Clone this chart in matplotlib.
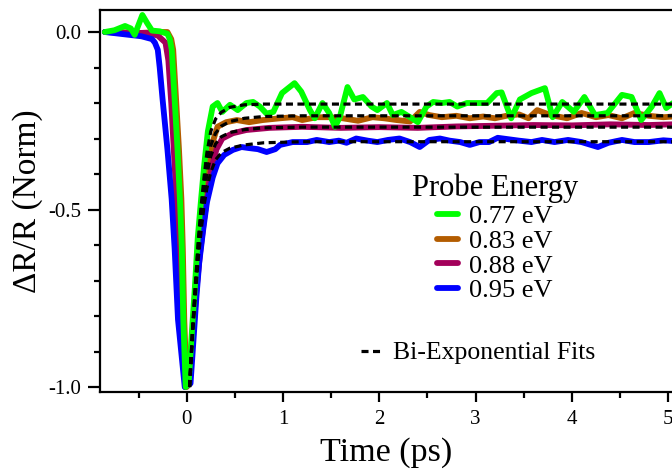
import matplotlib
matplotlib.use('Agg')
import matplotlib.pyplot as plt
from matplotlib.ticker import MultipleLocator

plt.rcParams['font.family'] = ['Liberation Serif', 'DejaVu Serif']

t_077 = [-0.85, -0.75, -0.64, -0.58, -0.54, -0.50, -0.46, -0.41, -0.36, -0.28,
         -0.20, -0.175, -0.155, -0.125, -0.095, -0.07, -0.05, -0.035, -0.01, 0.02,
         0.06, 0.085, 0.115, 0.15, 0.18, 0.22, 0.27, 0.32, 0.37, 0.45,
         0.53, 0.62, 0.69, 0.76, 0.83, 0.90, 0.99, 1.12, 1.19, 1.28,
         1.33, 1.41, 1.48, 1.54, 1.59, 1.67, 1.74, 1.83, 1.92, 1.98,
         2.08, 2.14, 2.23, 2.32, 2.40, 2.49, 2.56, 2.65, 2.73, 2.81,
         2.91, 3.01, 3.12, 3.22, 3.27, 3.37, 3.46, 3.58, 3.72, 3.80,
         3.90, 4.02, 4.13, 4.24, 4.37, 4.52, 4.62, 4.72, 4.83, 4.91,
         4.98, 5.05]
r_077 = [0.0, 0.005, 0.017, 0.01, -0.008, 0.02, 0.048, 0.025, 0.004, 0.002,
         -0.005, -0.02, -0.05, -0.19, -0.33, -0.47, -0.61, -0.81, -1.0, -0.99,
         -0.82, -0.72, -0.58, -0.47, -0.38, -0.28, -0.21, -0.2, -0.225, -0.205,
         -0.22, -0.2, -0.197, -0.21, -0.23, -0.225, -0.172, -0.144, -0.168, -0.22,
         -0.243, -0.2, -0.228, -0.267, -0.24, -0.155, -0.19, -0.183, -0.21, -0.22,
         -0.2, -0.234, -0.225, -0.24, -0.254, -0.21, -0.197, -0.2, -0.197, -0.21,
         -0.2, -0.2, -0.2, -0.172, -0.17, -0.243, -0.19, -0.172, -0.158, -0.24,
         -0.197, -0.225, -0.183, -0.234, -0.228, -0.177, -0.183, -0.248, -0.21, -0.172,
         -0.214, -0.2]

t_083 = [-0.85, -0.5, -0.3, -0.2, -0.16, -0.14, -0.11, -0.08, -0.055, -0.04,
         -0.025, 0.0, 0.03, 0.065, 0.09, 0.12, 0.16, 0.2, 0.24, 0.27,
         0.32, 0.41, 0.52, 0.65, 0.79, 0.97, 1.1, 1.2, 1.35, 1.48,
         1.62, 1.78, 1.93, 2.05, 2.18, 2.32, 2.42, 2.52, 2.65, 2.8,
         2.94, 3.08, 3.2, 3.32, 3.45, 3.55, 3.64, 3.78, 3.95, 4.1,
         4.25, 4.38, 4.52, 4.65, 4.8, 4.95, 5.05]
r_083 = [0.0, -0.003, 0.0, 0.0, -0.02, -0.05, -0.19, -0.33, -0.47, -0.61,
         -0.81, -1.0, -0.99, -0.83, -0.73, -0.6, -0.5, -0.43, -0.36, -0.31,
         -0.267, -0.254, -0.248, -0.254, -0.248, -0.243, -0.24, -0.248, -0.24, -0.24,
         -0.243, -0.25, -0.24, -0.243, -0.248, -0.252, -0.225, -0.234, -0.24, -0.236,
         -0.243, -0.238, -0.243, -0.236, -0.232, -0.243, -0.22, -0.234, -0.243, -0.228,
         -0.24, -0.234, -0.243, -0.228, -0.236, -0.24, -0.238]

t_088 = [-0.85, -0.4, -0.3, -0.22, -0.19, -0.16, -0.13, -0.1, -0.075, -0.05,
         -0.015, 0.03, 0.07, 0.1, 0.14, 0.18, 0.22, 0.26, 0.31, 0.37,
         0.48, 0.62, 0.86, 1.2, 1.6, 2.0, 2.4, 2.8, 3.2, 3.6,
         4.0, 4.4, 4.8, 5.05]
r_088 = [0.0, -0.003, -0.01, -0.03, -0.08, -0.2, -0.35, -0.5, -0.65, -0.82,
         -1.0, -0.99, -0.84, -0.73, -0.62, -0.53, -0.45, -0.38, -0.33, -0.3,
         -0.285, -0.276, -0.27, -0.267, -0.27, -0.268, -0.27, -0.266, -0.264, -0.262,
         -0.263, -0.26, -0.262, -0.26]

t_095 = [-0.85, -0.47, -0.36, -0.33, -0.30, -0.28, -0.25, -0.2, -0.156, -0.125,
         -0.09, -0.02, 0.04, 0.075, 0.1, 0.13, 0.17, 0.21, 0.27, 0.32,
         0.39, 0.48, 0.57, 0.65, 0.74, 0.83, 0.92, 0.97, 1.1, 1.25,
         1.35, 1.48, 1.58, 1.66, 1.76, 1.88, 1.98, 2.09, 2.21, 2.32,
         2.42, 2.52, 2.63, 2.73, 2.84, 2.94, 3.04, 3.14, 3.23, 3.34,
         3.45, 3.58, 3.69, 3.82, 3.96, 4.1, 4.27, 4.38, 4.52, 4.65,
         4.8, 4.95, 5.05]
r_095 = [0.0, -0.012, -0.02, -0.03, -0.05, -0.1, -0.19, -0.33, -0.47, -0.61,
         -0.81, -1.0, -0.99, -0.85, -0.75, -0.65, -0.56, -0.48, -0.41, -0.37,
         -0.346, -0.332, -0.324, -0.327, -0.33, -0.338, -0.33, -0.318, -0.31, -0.31,
         -0.304, -0.31, -0.306, -0.312, -0.3, -0.306, -0.31, -0.304, -0.3, -0.31,
         -0.324, -0.304, -0.3, -0.306, -0.31, -0.318, -0.31, -0.31, -0.298, -0.302,
         -0.306, -0.31, -0.304, -0.31, -0.304, -0.31, -0.324, -0.312, -0.304, -0.31,
         -0.31, -0.305, -0.307]

# Bi-exponential fits (sampled from the figure)
t_fit = [0.03, 0.06, 0.09, 0.12, 0.15, 0.18, 0.21, 0.25, 0.30, 0.36,
         0.45, 0.60, 0.8, 1.2, 5.05]
fit_077 = [-1.0, -0.84, -0.71, -0.59, -0.49, -0.41, -0.34, -0.28, -0.245, -0.226,
           -0.212, -0.205, -0.203, -0.203, -0.203]
fit_083 = [-1.0, -0.845, -0.72, -0.60, -0.51, -0.43, -0.37, -0.32, -0.285, -0.265,
           -0.252, -0.243, -0.238, -0.236, -0.236]
fit_088 = [-1.0, -0.85, -0.73, -0.62, -0.53, -0.46, -0.40, -0.35, -0.315, -0.295,
           -0.283, -0.275, -0.27, -0.268, -0.268]
fit_095 = [-1.0, -0.855, -0.74, -0.64, -0.56, -0.49, -0.44, -0.395, -0.36, -0.34,
           -0.327, -0.318, -0.312, -0.309, -0.309]

labels = ['0.77 eV', '0.83 eV', '0.88 eV', '0.95 eV']
colors = ['#00ff00', '#b35c00', '#a3005a', '#0000ff']
zorders = [5, 2, 3, 4]

fig = plt.figure(figsize=(6.72, 4.70), dpi=100)
ax = fig.add_axes([100 / 672, 78 / 470, 573 / 672, 382 / 470])

series = [(t_077, r_077), (t_083, r_083), (t_088, r_088), (t_095, r_095)]
data_lines = []
for (t, r), lab, c, z in zip(series, labels, colors, zorders):
    ln, = ax.plot(t, r, color=c, lw=4.2, label=lab, zorder=z,
                  solid_joinstyle='round', solid_capstyle='round')
    data_lines.append(ln)

fit_lines = []
for f in [fit_077, fit_083, fit_088, fit_095]:
    ln, = ax.plot(t_fit, f, color='black', lw=2.3, ls=(0, (2.2, 1.4)), zorder=6)
    fit_lines.append(ln)

ax.set_xlim(-0.9, 5.05)
ax.set_ylim(-1.014, 0.062)
ax.xaxis.set_major_locator(MultipleLocator(1))
ax.xaxis.set_minor_locator(MultipleLocator(0.5))
ax.yaxis.set_major_locator(MultipleLocator(0.5))
ax.yaxis.set_minor_locator(MultipleLocator(0.1))
ax.yaxis.set_major_formatter(matplotlib.ticker.FormatStrFormatter('%.1f'))

for s in ax.spines.values():
    s.set_linewidth(1.6)
ax.spines['right'].set_visible(False)
ax.tick_params(axis='both', which='both', direction='out', width=1.6, labelsize=15)
ax.tick_params(axis='y', which='major', length=8.5, pad=5)
ax.tick_params(axis='y', which='minor', length=4)
ax.tick_params(axis='x', which='major', length=7, pad=6)
ax.tick_params(axis='x', which='minor', length=4)

ax.set_xlabel('Time (ps)', fontsize=24.5, labelpad=6)
ax.set_ylabel('ΔR/R (Norm)', fontsize=24, labelpad=4)

leg1 = ax.legend(handles=data_lines, title='Probe Energy', fontsize=19,
                 title_fontsize=22, frameon=False, handlelength=0.8,
                 handletextpad=0.4, labelspacing=0.05, borderpad=0.1,
                 loc='center', bbox_to_anchor=(495 / 672, 1 - 238 / 470),
                 bbox_transform=fig.transFigure)
ax.add_artist(leg1)

ax.legend(handles=[fit_lines[0]], labels=['Bi-Exponential Fits'], fontsize=18.5,
          frameon=False, handlelength=0.8, handletextpad=0.45, borderpad=0.1,
          loc='center', bbox_to_anchor=(478 / 672, 1 - 353 / 470),
          bbox_transform=fig.transFigure)

fig.savefig('out.png', dpi=100)
